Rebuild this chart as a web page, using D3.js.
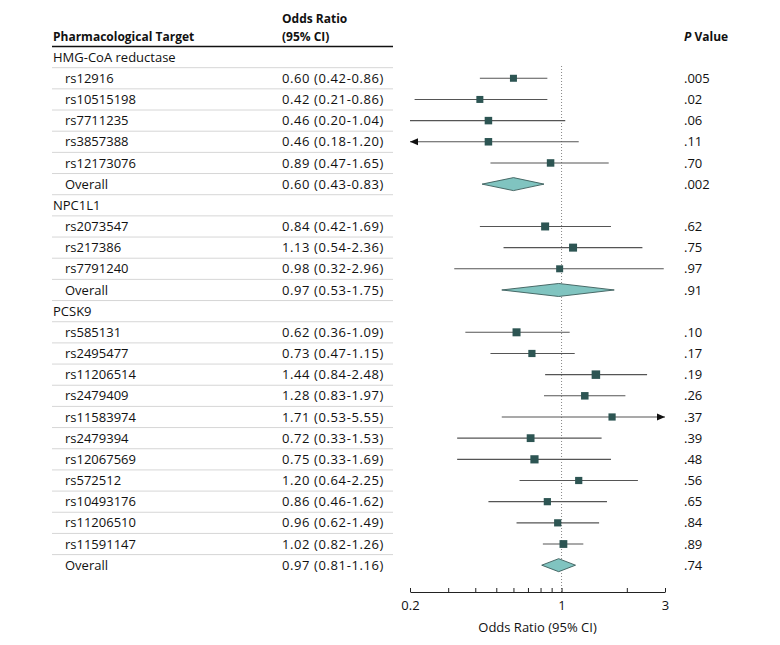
<!DOCTYPE html>
<html>
<head>
<meta charset="utf-8">
<script src="https://cdn.jsdelivr.net/npm/d3@7"></script>
<style>
  html, body { margin: 0; padding: 0; background: #fff; }
  svg { display: block; }
  text { font-family: "Open Sans", "Noto Sans", sans-serif; fill: #111; }
</style>
</head>
<body>
<svg id="chart" width="780" height="645"></svg>
<script>
// ---- data ----
const labels = ["HMG-CoA reductase","rs12916","rs10515198","rs7711235","rs3857388","rs12173076","Overall",
  "NPC1L1","rs2073547","rs217386","rs7791240","Overall",
  "PCSK9","rs585131","rs2495477","rs11206514","rs2479409","rs11583974","rs2479394","rs12067569","rs572512","rs10493176","rs11206510","rs11591147","Overall"];
const rowTypes = ["group","snp","snp","snp","snp","snp","overall",
  "group","snp","snp","snp","overall",
  "group","snp","snp","snp","snp","snp","snp","snp","snp","snp","snp","snp","overall"];
const oddsRatio = [null,0.60,0.42,0.46,0.46,0.89,0.60, null,0.84,1.13,0.98,0.97, null,0.62,0.73,1.44,1.28,1.71,0.72,0.75,1.20,0.86,0.96,1.02,0.97];
const ciLow =     [null,0.42,0.21,0.20,0.18,0.47,0.43, null,0.42,0.54,0.32,0.53, null,0.36,0.47,0.84,0.83,0.53,0.33,0.33,0.64,0.46,0.62,0.82,0.81];
const ciHigh =    [null,0.86,0.86,1.04,1.20,1.65,0.83, null,1.69,2.36,2.96,1.75, null,1.09,1.15,2.48,1.97,5.55,1.53,1.69,2.25,1.62,1.49,1.26,1.16];
const pValues =   ["",".005",".02",".06",".11",".70",".002", "",".62",".75",".97",".91", "",".10",".17",".19",".26",".37",".39",".48",".56",".65",".84",".89",".74"];
const markerSize = [0,5.5,5.5,6,6,6,0, 0,6.5,6.5,5.5,0, 0,6.5,5.7,7,6,5.7,6.3,6.7,5.7,5.7,5.7,6.3,0];
const tickValues = [0.2,0.3,0.4,0.5,0.6,0.7,0.8,0.9,1,2,3];
const tickLabels = {0.2:"0.2", 1:"1", 3:"3"};

// ---- layout ----
const svg = d3.select("#chart");
const xMin = 0.2, xMax = 3;
const x = d3.scaleLog().domain([xMin, xMax]).range([410, 665]);
const rowY0 = 57.1, rowStep = 21.17;
const y = i => rowY0 + i * rowStep;
const colLabel = 53, colIndent = 65, colOR = 282, colP = 684;
const fs = 13, fsHead = 12;
const fmt = d3.format(".2f");
const axisY = 592;

// header
svg.append("text").attr("x", colLabel).attr("y", 41).attr("font-size", fsHead).attr("font-weight", 700).text("Pharmacological Target");
svg.append("text").attr("x", colOR).attr("y", 23).attr("font-size", fsHead).attr("font-weight", 700).text("Odds Ratio");
svg.append("text").attr("x", colOR).attr("y", 41).attr("font-size", fsHead).attr("font-weight", 700).text("(95% CI)");
const pv = svg.append("text").attr("x", colP).attr("y", 41).attr("font-size", fsHead).attr("font-weight", 700);
pv.append("tspan").attr("font-style", "italic").text("P");
pv.append("tspan").text(" Value");

svg.append("line").attr("x1", 52).attr("x2", 393).attr("y1", 46.5).attr("y2", 46.5)
  .attr("stroke", "#111").attr("stroke-width", 1.4);

// separators
for (let i = 0; i < labels.length - 1; i++) {
  svg.append("line").attr("x1", 52).attr("x2", 393)
    .attr("y1", y(i) + rowStep / 2).attr("y2", y(i) + rowStep / 2)
    .attr("stroke", "#d6d6d6").attr("stroke-width", 1);
}

// reference line
svg.append("line").attr("x1", x(1)).attr("x2", x(1)).attr("y1", 66).attr("y2", axisY)
  .attr("stroke", "#888").attr("stroke-width", 1).attr("stroke-dasharray", "1,2");

// rows
labels.forEach((lab, i) => {
  const t = rowTypes[i];
  svg.append("text").attr("x", t === "group" ? colLabel : colIndent).attr("y", y(i) + 4.6)
    .attr("font-size", fs).text(lab);
  if (t === "group") return;
  svg.append("text").attr("x", colOR).attr("y", y(i) + 4.6).attr("font-size", fs)
    .attr("letter-spacing", 0.6)
    .text(`${fmt(oddsRatio[i])} (${fmt(ciLow[i])}-${fmt(ciHigh[i])})`);
  svg.append("text").attr("x", colP).attr("y", y(i) + 4.6).attr("font-size", fs).text(pValues[i]);

  const cy = y(i);
  if (t === "overall") {
    const pts = [[x(ciLow[i]), cy], [x(oddsRatio[i]), cy - 6.5], [x(ciHigh[i]), cy], [x(oddsRatio[i]), cy + 6.5]];
    svg.append("polygon").attr("points", pts.map(p => p.join(",")).join(" "))
      .attr("fill", "#80c4c0").attr("stroke", "#3b5c5a").attr("stroke-width", 0.9);
    return;
  }
  const lo = Math.max(ciLow[i], xMin), hi = Math.min(ciHigh[i], xMax);
  svg.append("line").attr("x1", x(lo)).attr("x2", x(hi)).attr("y1", cy).attr("y2", cy)
    .attr("stroke", "#555").attr("stroke-width", 1.1);
  if (ciLow[i] < xMin) {
    const ax = x(xMin);
    svg.append("path").attr("d", `M${ax},${cy} L${ax + 8},${cy - 3.5} L${ax + 8},${cy + 3.5} Z`).attr("fill", "#111");
  }
  if (ciHigh[i] > xMax) {
    const ax = x(xMax);
    svg.append("path").attr("d", `M${ax},${cy} L${ax - 8},${cy - 3.5} L${ax - 8},${cy + 3.5} Z`).attr("fill", "#111");
  }
  const s = markerSize[i] + 1.5;
  svg.append("rect").attr("x", x(oddsRatio[i]) - s / 2).attr("y", cy - s / 2)
    .attr("width", s).attr("height", s).attr("fill", "#2d5553");
});

// axis
const axis = d3.axisBottom(x).tickValues(tickValues)
  .tickFormat(d => tickLabels[d] || "")
  .tickSizeInner(-4).tickSizeOuter(0).tickPadding(9);
const gAxis = svg.append("g").attr("transform", `translate(0,${axisY})`).call(axis);
gAxis.selectAll("text").attr("font-size", fs).attr("font-family", "\"Open Sans\", sans-serif").attr("fill", "#111");
gAxis.selectAll("line, path").attr("stroke", "#222");

svg.append("text").attr("x", 537.5).attr("y", 632).attr("text-anchor", "middle")
  .attr("font-size", fs).text("Odds Ratio (95% CI)");
</script>
</body>
</html>
